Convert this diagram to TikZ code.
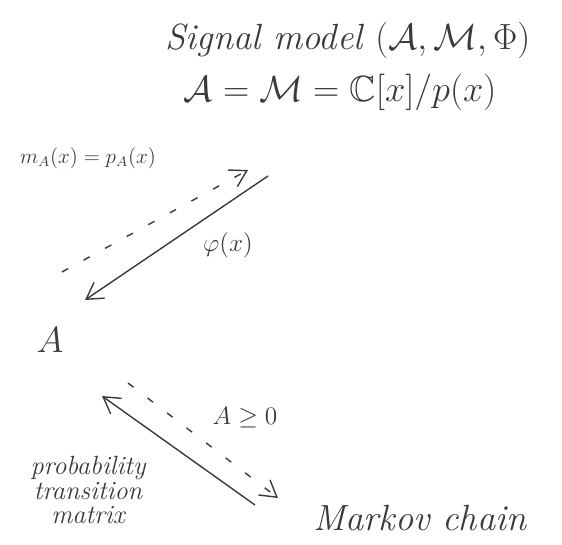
\documentclass[tikz,border=0pt]{standalone}
\usepackage{amsmath,amssymb}
\usepackage{tikz}
\usetikzlibrary{arrows.meta}
\definecolor{cpen}{HTML}{3A3A3A}
\tikzset{
  hand/.style={text=cpen, inner sep=1pt},
  big/.style={hand, font=\huge\itshape},
  lbl/.style={hand, font=\Large\itshape},
  map/.style={-{Straight Barb[length=3.2mm,width=3.8mm]}, draw=cpen, line width=0.8pt},
  hint/.style={map, dash pattern=on 4pt off 10pt},
}

\begin{document}
\begin{tikzpicture}[x=0.02cm,y=-0.02cm]
\useasboundingbox (0,0) rectangle (562,545);
% objects
\node[big] (model) at (348,40) {Signal model $(\mathcal{A},\mathcal{M},\Phi)$};
\node[big] (alg) at (340,92) {$\mathcal{A}=\mathcal{M}=\mathbb{C}[x]/p(x)$};
\node[big] (matA) at (50,340) {$A$};
\node[big] (markov) at (420,518) {Markov chain};
% labels
\node[lbl, font=\large] (minpoly) at (88,158) {$m_A(x)=p_A(x)$};
\node[lbl] (phi) at (228,245) {$\varphi(x)$};
\node[lbl] (nonneg) at (245,418) {$A\geq 0$};
\node[hand, font=\fontsize{15}{14}\selectfont\itshape, align=center] (ptm) at (88,490) {probability\\transition\\matrix};
% ends of the arrows
\coordinate (algS) at (268,176);  \coordinate (matN) at (85,300);
\coordinate (matNE) at (62,272);  \coordinate (algSW) at (248,170);
\coordinate (mcNW) at (255,505);  \coordinate (matS) at (102,396);
\coordinate (matSE) at (128,383); \coordinate (mcW) at (278,498);
\draw[map] (algS) -- (matN);
\draw[hint] (matNE) -- (algSW);
\draw[map] (mcNW) -- (matS);
\draw[hint] (matSE) -- (mcW);
\end{tikzpicture}
\end{document}
